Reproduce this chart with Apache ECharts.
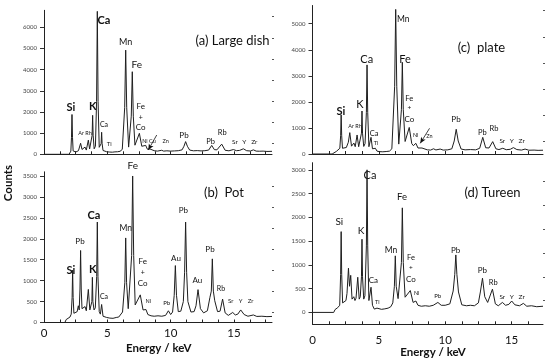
<!DOCTYPE html>
<html><head><meta charset="utf-8">
<script src="https://cdn.jsdelivr.net/npm/echarts@6/dist/echarts.min.js"></script>
<style>html,body{margin:0;padding:0;background:#fff}#c{width:550px;height:363px}</style>
</head><body><div id="c"></div>
<script>
// ---- data (energy keV, counts) ----
const spectrumA = [[0,0],[1.98,0],[2.05,50],[2.12,150],[2.17,800],[2.21,1880],[2.25,800],[2.3,160],[2.4,80],[2.52,110],[2.62,200],[2.72,170],[2.89,520],[3.0,230],[3.08,190],[3.24,340],[3.34,200],[3.42,260],[3.5,670],[3.6,250],[3.68,330],[3.8,900],[3.84,1840],[3.88,900],[3.96,260],[4.06,380],[4.15,2500],[4.21,6750],[4.27,2500],[4.36,330],[4.45,300],[4.51,500],[4.55,1040],[4.59,500],[4.66,180],[4.8,110],[4.95,120],[5.08,160],[5.2,105],[5.4,100],[5.6,115],[5.8,120],[6.0,140],[6.18,230],[6.37,2200],[6.45,4920],[6.53,2200],[6.68,340],[6.74,360],[6.89,1800],[6.97,3900],[7.05,1800],[7.18,430],[7.3,500],[7.53,990],[7.72,380],[7.86,300],[8.03,420],[8.16,240],[8.26,220],[8.37,250],[8.5,180],[8.7,170],[8.95,150],[9.1,160],[9.29,190],[9.45,150],[9.7,165],[10.0,150],[10.3,160],[10.6,170],[10.9,210],[11.05,380],[11.18,600],[11.32,380],[11.5,200],[11.8,165],[12.1,175],[12.4,160],[12.7,170],[13.0,200],[13.24,420],[13.45,220],[13.65,210],[14.03,480],[14.3,190],[14.6,165],[14.95,225],[15.2,170],[15.45,185],[15.74,260],[16.0,170],[16.3,155],[16.53,210],[16.75,150],[17.0,145],[17.3,150],[17.6,135],[18,140]];
const spectrumB = [[0,0],[1.65,0],[1.75,70],[1.9,110],[2.05,130],[2.15,200],[2.22,600],[2.26,1250],[2.3,600],[2.36,220],[2.5,200],[2.62,260],[2.71,400],[2.78,300],[2.84,800],[2.89,1720],[2.94,800],[3.0,330],[3.1,300],[3.24,380],[3.34,280],[3.5,790],[3.62,300],[3.7,330],[3.78,500],[3.82,1080],[3.86,500],[3.95,300],[4.05,350],[4.16,1100],[4.21,2400],[4.26,1100],[4.36,260],[4.45,200],[4.55,430],[4.66,150],[4.8,110],[4.95,120],[5.05,140],[5.2,105],[5.45,100],[5.7,120],[5.9,130],[6.05,160],[6.2,250],[6.38,950],[6.45,2020],[6.52,950],[6.65,330],[6.75,360],[6.92,1600],[7.0,3500],[7.08,1600],[7.2,420],[7.35,420],[7.6,660],[7.82,300],[7.92,260],[8.05,310],[8.2,190],[8.45,160],[8.7,150],[9.0,160],[9.3,150],[9.6,170],[9.82,280],[10.0,190],[10.15,250],[10.28,650],[10.37,1360],[10.46,650],[10.6,260],[10.8,270],[11.0,500],[11.1,1200],[11.18,2400],[11.26,1200],[11.36,500],[11.6,250],[11.85,260],[12.0,400],[12.16,785],[12.35,330],[12.6,230],[12.9,280],[13.1,600],[13.21,750],[13.29,1520],[13.37,750],[13.48,520],[13.7,260],[13.9,270],[14.1,560],[14.3,230],[14.55,170],[14.9,240],[15.1,180],[15.3,200],[15.53,300],[15.8,190],[16.1,150],[16.53,180],[16.8,145],[17.2,150],[17.6,140],[18,145]];
const spectrumC = [[0,0],[1.48,0],[1.6,60],[1.8,100],[1.95,130],[2.06,220],[2.12,700],[2.16,1500],[2.2,700],[2.26,220],[2.4,190],[2.55,250],[2.7,450],[2.81,820],[2.94,300],[3.02,280],[3.12,420],[3.22,280],[3.36,730],[3.48,280],[3.58,340],[3.69,800],[3.73,1650],[3.77,800],[3.86,290],[3.96,400],[4.06,1600],[4.11,3420],[4.16,1600],[4.25,280],[4.32,260],[4.41,640],[4.52,200],[4.62,180],[4.74,220],[4.86,110],[5.05,90],[5.3,85],[5.55,95],[5.8,110],[5.98,200],[6.19,2600],[6.27,5550],[6.35,2600],[6.5,380],[6.56,400],[6.7,1700],[6.77,3520],[6.84,1700],[6.98,480],[7.08,520],[7.29,1020],[7.48,400],[7.6,320],[7.79,410],[7.95,230],[8.1,200],[8.25,230],[8.4,170],[8.65,160],[8.9,150],[9.12,200],[9.3,155],[9.62,190],[9.85,150],[10.2,160],[10.5,200],[10.68,500],[10.83,950],[10.98,500],[11.2,190],[11.5,160],[11.9,170],[12.3,160],[12.6,220],[12.83,640],[13.05,240],[13.3,230],[13.58,475],[13.82,200],[14.05,170],[14.34,220],[14.6,165],[14.9,180],[15.14,245],[15.4,170],[15.75,150],[16.02,190],[16.3,145],[16.7,150],[17.0,140],[17.37,145]];
const spectrumD = [[0,0],[1.6,0],[1.7,60],[1.9,100],[2.05,150],[2.12,800],[2.16,1700],[2.2,800],[2.27,200],[2.4,170],[2.52,250],[2.6,400],[2.71,930],[2.79,550],[2.88,780],[2.98,280],[3.03,240],[3.11,330],[3.2,250],[3.28,300],[3.41,740],[3.52,280],[3.6,330],[3.69,750],[3.73,1540],[3.77,750],[3.86,280],[3.95,350],[4.06,1400],[4.11,3000],[4.16,1400],[4.25,250],[4.32,230],[4.41,530],[4.52,150],[4.66,70],[4.8,65],[4.86,90],[4.95,60],[5.2,65],[5.45,75],[5.7,90],[5.9,120],[6.05,200],[6.17,550],[6.24,1190],[6.31,550],[6.45,290],[6.55,310],[6.7,1050],[6.77,2200],[6.84,1050],[6.98,320],[7.1,300],[7.37,460],[7.58,210],[7.68,190],[7.79,240],[7.95,150],[8.2,130],[8.5,140],[8.8,130],[9.1,150],[9.45,210],[9.7,150],[10.0,150],[10.35,180],[10.6,450],[10.72,800],[10.8,1210],[10.88,800],[11.0,430],[11.25,160],[11.6,140],[11.9,150],[12.2,140],[12.5,200],[12.65,430],[12.81,720],[12.98,330],[13.2,210],[13.35,250],[13.56,490],[13.78,180],[14.0,140],[14.31,210],[14.55,150],[14.8,170],[15.01,240],[15.25,160],[15.6,140],[15.89,190],[16.15,130],[16.5,140],[16.9,120],[17.37,130]];

const xLabelValues = [0,5,10,15];
const xTicksAB = [0,1.25,2.5,3.75,5,6.25,7.5,8.75,10,11.25,12.5,13.75,15,16.25,17.5];
const xTicksCD = [0,1.25,2.5,3.75,5,6.25,7.5,8.75,10,11.25,12.5,13.75,15,16.25];
const yTicksA = [0,1000,2000,3000,4000,5000,6000];
const yMinorA = [500,1500,2500,3500,4500,5500,6500];
const yTicksB = [0,500,1000,1500,2000,2500,3000,3500];
const yMinorB = [250,750,1250,1750,2250,2750,3250];
const yTicksC = [0,1000,2000,3000,4000,5000];
const yMinorC = [500,1500,2500,3500,4500,5500];
const yTicksD = [0,500,1000,1500,2000,2500,3000];
const yMinorD = [250,750,1250,1750,2250,2750];
const arrowA = [[8.9,911],[8.23,203]];
const arrowC = [[8.82,986],[8.12,410]];

// ---- layout ----
const FONT = 'Lato, "Open Sans", sans-serif';
const grids = [
  {left:44, right:278, top:10.3, bottom:208.7},
  {left:44, right:278, top:171.8, bottom:40.5},
  {left:312.5, right:7, top:5.5, bottom:209},
  {left:312.5, right:7, top:162.7, bottom:38.7}
];
const yRange = [[0,6800],[0,3600],[0,5700],[-250,3150]];
const xMax = [18,18,17.37,17.37];
const yMaj = [yTicksA,yTicksB,yTicksC,yTicksD];
const yMin = [yMinorA,yMinorB,yMinorC,yMinorD];
const showXLabel = [false,true,false,true];
const xLabelMargin = [5,5,5,10];
const xTicks = [xTicksAB,xTicksAB,xTicksCD,xTicksCD];

const xAxis = grids.map((g,i)=>({
  type:'value', gridIndex:i, min:0, max:xMax[i],
  axisLine:{show:true, onZero:false, lineStyle:{color:'#222', width:1}},
  axisTick:{show:true, inside:true, length:3, customValues:xTicks[i], lineStyle:{color:'#222'}},
  axisLabel:{show:showXLabel[i], customValues:xLabelValues, margin:xLabelMargin[i], fontSize:11.5, color:'#111', fontFamily:FONT, formatter:v=>String(v)},
  splitLine:{show:false}
}));
const yAxis = [];
grids.forEach((g,i)=>{
  yAxis.push({
    type:'value', gridIndex:i, min:yRange[i][0], max:yRange[i][1],
    axisLine:{show:true, lineStyle:{color:'#222', width:1}},
    axisTick:{show:true, length:4, customValues:yMaj[i], lineStyle:{color:'#333'}},
    axisLabel:{customValues:yMaj[i], margin:7, fontSize:6, color:'#444', fontFamily:FONT, formatter:v=>String(v)},
    splitLine:{show:false}
  });
});
grids.forEach((g,i)=>{
  yAxis.push({
    type:'value', gridIndex:i, min:yRange[i][0], max:yRange[i][1],
    axisLine:{show:false},
    axisTick:{show:true, length:2, customValues:yMin[i], lineStyle:{color:'#555'}},
    axisLabel:{show:false},
    splitLine:{show:false}
  });
});

function arrowMark(a){
  return {silent:true, symbol:['none','arrow'], symbolSize:[4,6], label:{show:false},
    lineStyle:{color:'#111', width:0.8, type:'solid'},
    data:[[{coord:a[0]},{coord:a[1]}]]};
}
const spectra = [spectrumA,spectrumB,spectrumC,spectrumD];
const series = spectra.map((d,i)=>({
  type:'line', xAxisIndex:i, yAxisIndex:i, data:d, showSymbol:false, symbol:'none',
  lineStyle:{color:'#1f1f1f', width:1}, animation:false,
  markLine: i===0 ? arrowMark(arrowA) : (i===2 ? arrowMark(arrowC) : undefined)
}));

// ---- text annotations (pixel layout) ----
const ann = [
  // panel a
  ['Si',71,107.7,11,'bold'],['Ar Rh',85,133.3,5.5,'normal'],['K',92.7,106,11,'bold'],
  ['Ca',104,20.7,11,'bold'],['Ca',104,124.3,7,'normal'],['Ti',109.3,144.3,6,'normal'],
  ['Mn',125.7,42.3,9,'normal'],['Fe',136.7,64.3,10,'normal'],
  ['Fe',140.7,106,8,'normal'],['+',140.7,117.3,7,'normal'],['Co',140.7,127.7,8,'normal'],
  ['Ni Cu',149,141.7,5.5,'normal'],['Zn',165.7,141.7,5.5,'normal'],
  ['Pb',184,135,8,'normal'],['Pb',210.7,141.7,7.5,'normal'],['Rb',222.3,132.7,7.5,'normal'],
  ['Sr',235,141.7,6.5,'normal'],['Y',244.3,141.7,6.5,'normal'],['Zr',254.3,141.7,6.5,'normal'],
  // panel b
  ['Fe',132.7,165.7,10,'normal'],['Pb',80,241,8,'normal'],['Si',71,270,11,'bold'],
  ['K',92.7,269,11,'bold'],['Ca',94,215,11,'bold'],['Ca',104,296.7,7,'normal'],
  ['Mn',125.7,228.3,8.5,'normal'],
  ['Fe',142.7,261.7,8,'normal'],['+',142.7,272.7,7,'normal'],['Co',142.7,283.3,8,'normal'],
  ['Ni',148.3,301.7,5.5,'normal'],['Pb',166.7,303.3,6,'normal'],['Au',176,258.3,8,'normal'],
  ['Pb',183.3,210.7,8,'normal'],['Au',197.3,280,8,'normal'],['Pb',210,249.3,8,'normal'],
  ['Rb',221,288.3,7,'normal'],['Sr',230.7,301,6,'normal'],['Y',240.7,301,6,'normal'],['Zr',250.7,301,6,'normal'],
  // panel c
  ['Mn',403.3,19.3,8.5,'normal'],['Ca',366.7,59,11,'normal'],['Fe',405,59,11,'normal'],
  ['Si',341,111,11,'bold'],['K',360,104,11,'normal'],['Ar Rh',355,126.7,5.5,'normal'],
  ['Ca',374,133.3,7.5,'normal'],['Ti',376,143.3,5.5,'normal'],
  ['Fe',409.3,98.3,7.5,'normal'],['+',409.3,108.3,6.5,'normal'],['Co',409.3,119,8,'normal'],
  ['Ni',415.7,135.7,5.5,'normal'],['Zn',429.3,136,5.5,'normal'],
  ['Pb',456,119,8,'normal'],['Pb',482.3,132.7,7.5,'normal'],['Rb',494,128.3,7.5,'normal'],
  ['Sr',502.3,141,6.5,'normal'],['Y',511.7,141,6.5,'normal'],['Zr',521.7,141,6.5,'normal'],
  // panel d
  ['Ca',370,175,11,'normal'],['Fe',402,197.3,9.5,'normal'],['Si',339.3,221.7,10,'normal'],
  ['K',361,231,10,'normal'],['Mn',391,250,8.5,'normal'],
  ['Fe',411,257.7,7.5,'normal'],['+',411,268.3,6.5,'normal'],['Co',411,279,8,'normal'],
  ['Ca',373.3,280,8,'normal'],['Ti',377.3,302.7,5.5,'normal'],['Ni',416.7,293.3,5.5,'normal'],
  ['Pb',437.7,296,6,'normal'],['Pb',455.7,250,8,'normal'],['Pb',482.3,270.7,8,'normal'],
  ['Rb',493.3,282.7,7.5,'normal'],['Sr',502.3,296.7,6.5,'normal'],['Y',511.7,296.7,6.5,'normal'],['Zr',521.7,296.7,6.5,'normal'],
  // titles
  ['(a) Large dish',232.5,40.7,13,'normal'],['(b)  Pot',224,192.7,13,'normal'],
  ['(c)  plate',481.5,48,13,'normal'],['(d) Tureen',492.5,192.7,13,'normal'],
  ['Energy / keV',158.7,348,11.5,'bold'],['Energy / keV',433,352,11.5,'bold']
];
const graphic = ann.map(a=>({
  type:'text', x:a[1], y:a[2], silent:true,
  style:{text:a[0], fontSize:a[3], fontWeight:a[4], fontFamily:FONT, fill:'#111', align:'center', verticalAlign:'middle'}
}));
graphic.push({type:'text', x:8, y:183, rotation:Math.PI/2, silent:true,
  style:{text:'Counts', fontSize:11.5, fontWeight:'bold', fontFamily:FONT, fill:'#111', align:'center', verticalAlign:'middle'}});

const chart = echarts.init(document.getElementById('c'), null, {renderer:'canvas'});
chart.setOption({animation:false, backgroundColor:'#fff', grid:grids, xAxis, yAxis, series, graphic});
</script></body></html>
